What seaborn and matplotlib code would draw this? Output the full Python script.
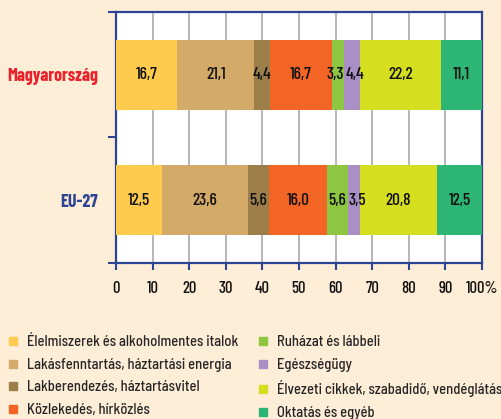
import numpy as np
import pandas as pd
import matplotlib
matplotlib.use('Agg')
import matplotlib.pyplot as plt
from matplotlib.lines import Line2D
import seaborn as sns

### ------------------- adatok ----------------------
countries = ['Magyarország', 'EU-27']
categories = ['Élelmiszerek és alkoholmentes italok',
              'Lakásfenntartás, háztartási energia',
              'Lakberendezés, háztartásvitel',
              'Közlekedés, hírközlés',
              'Ruházat és lábbeli',
              'Egészségügy',
              'Élvezeti cikkek, szabadidő, vendéglátás',
              'Oktatás és egyéb']
hu_values = [16.7, 21.1, 4.4, 16.7, 3.3, 4.4, 22.2, 11.1]
eu_values = [12.5, 23.6, 5.6, 16.0, 5.6, 3.5, 20.8, 12.5]
colors = ['#FFCB4F', '#D3AA68', '#9C7E4B', '#F26524',
          '#8DC640', '#A98FC5', '#D6DE20', '#2DB574']
x_ticks = [0, 10, 20, 30, 40, 50, 60, 70, 80, 90, 100]
x_ticklabels = ['0', '10', '20', '30', '40', '50', '60', '70', '80', '90', '100%']

bg = '#FEEDD7'
navy = '#2D4394'

df = pd.DataFrame({'country': np.repeat(countries, len(categories)),
                   'category': categories * 2,
                   'value': hu_values + eu_values})
df['cum'] = df.groupby('country')['value'].cumsum()
df['start'] = df['cum'] - df['value']
df['prev'] = df.groupby('country')['value'].shift(1).fillna(100)
df['next'] = df.groupby('country')['value'].shift(-1).fillna(100)

sns.set_style('white')
plt.rcParams['font.family'] = ['Barlow Condensed', 'DejaVu Sans']

fig = plt.figure(figsize=(5.01, 4.19), dpi=100, facecolor=bg)
ax = fig.add_axes([116/501, 1 - 263/419, 366/501, 251/419])
ax.set_facecolor('white')

# egymasra rakott savok: a kumulalt ertekeket hatulrol elore rajzoljuk
for cat, col in reversed(list(zip(categories, colors))):
    sub = df[df['category'] == cat]
    sns.barplot(data=sub, x='cum', y='country', order=countries, orient='h',
                color=col, width=0.56, saturation=1, ax=ax, zorder=3,
                linewidth=0)

# feliratok, a keskeny szomszedos szeleteknel kicsit szethuzva
for _, r in df.iterrows():
    dx = 0
    if r['value'] < 4.5 and r['next'] < 4.5:
        dx = -2
    elif r['value'] < 4.5 and r['prev'] < 6:
        dx = 2.5
    ax.annotate(f"{r['value']:.1f}".replace('.', ','),
                (r['start'] + r['value'] / 2, countries.index(r['country'])),
                xytext=(dx, 0), textcoords='offset points',
                ha='center', va='center', fontsize=12.5, fontweight='medium',
                color='#111111', zorder=5)

ax.set_xlim(0, 100)
ax.set_ylim(1.5, -0.5)
ax.set_xticks(x_ticks)
ax.set_xticklabels(x_ticklabels, fontsize=12, fontweight='medium')
ax.set_xlabel('')
ax.set_ylabel('')
ax.grid(axis='x', color='#AAAAAA', linewidth=1.2, zorder=0)
ax.set_axisbelow(True)

ax.set_yticks([0, 1])
ax.set_yticklabels(countries, fontsize=13, fontweight='bold')
ax.get_yticklabels()[0].set_color('#E8212B')
ax.get_yticklabels()[1].set_color(navy)
ax.tick_params(axis='y', which='major', length=0, pad=13)
ax.set_yticks([-0.5, 0.5, 1.5], minor=True)
ax.tick_params(axis='y', which='minor', length=6, width=1.5, color=navy, direction='out', left=True)
ax.tick_params(axis='x', which='major', length=5, width=1.5, color=navy, direction='out',
               bottom=True, pad=8, labelcolor='#111111')

for s in ax.spines.values():
    s.set_visible(True)
    s.set_color(navy)
    s.set_linewidth(1.6)

# jelmagyarazat ket oszlopban
handles = [Line2D([], [], marker='s', linestyle='', markersize=6, color=c) for c in colors]
for k, x0 in enumerate([7, 257]):
    fig.legend(handles[k*4:k*4+4], categories[k*4:k*4+4], loc='upper left',
               bbox_to_anchor=(x0/501, 1 - 335/419), frameon=False,
               prop={'family': ['Barlow Semi Condensed', 'DejaVu Sans'], 'size': 10.5,
                     'weight': 'medium'},
               handlelength=0.8, handletextpad=0.57, borderpad=0,
               labelspacing=0.6, borderaxespad=0)

fig.savefig('out.png', dpi=100, facecolor=bg)
